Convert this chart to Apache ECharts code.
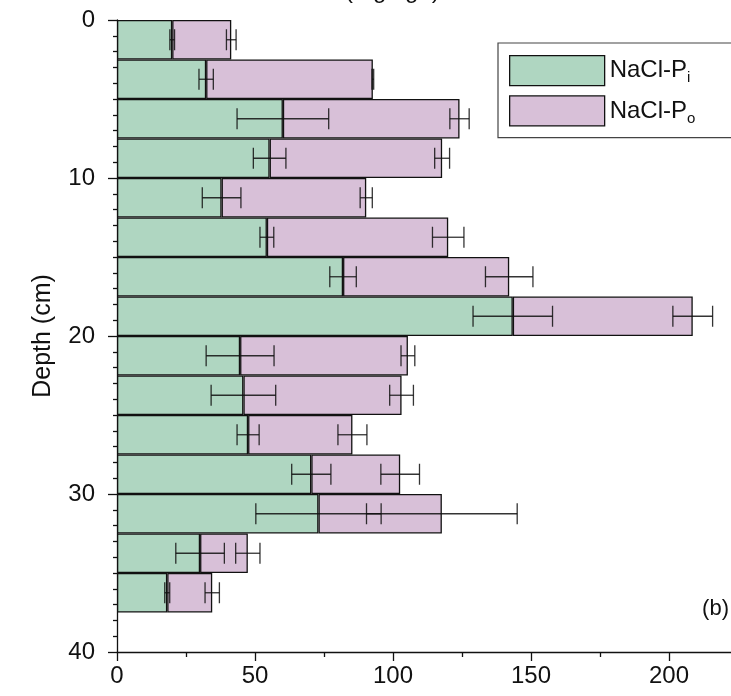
<!DOCTYPE html>
<html>
<head>
<meta charset="utf-8">
<title>NaCl-P by depth</title>
<script src="https://cdn.jsdelivr.net/npm/echarts@6/dist/echarts.min.js"></script>
<style>
  html, body { margin: 0; padding: 0; background: #ffffff; }
  #chart { width: 731px; height: 696px; }
</style>
</head>
<body>
<div id="chart"></div>
<script>
// Depth bins, 2.5 cm each (the last bin has no sample)
const depthBins = ['0-2.5', '2.5-5', '5-7.5', '7.5-10', '10-12.5', '12.5-15', '15-17.5', '17.5-20',
                   '20-22.5', '22.5-25', '25-27.5', '27.5-30', '30-32.5', '32.5-35', '35-37.5', '37.5-40'];
// NaCl-extractable inorganic P (mg/kg) and its error
const naclPi    = [20.0, 32.3, 60.1, 55.3, 37.9, 54.3, 81.9, 143.4, 44.6, 45.8, 47.5, 70.4, 73.0, 30.1, 18.2];
const naclPiErr = [0.85, 2.6, 16.6, 5.9, 7.0, 2.5, 4.8, 14.4, 12.3, 11.7, 4.0, 7.1, 22.7, 8.8, 0.9];
// NaCl-extractable organic P (mg/kg) and its error
const naclPo    = [21.4, 60.4, 64.0, 62.5, 52.4, 65.7, 60.2, 65.2, 60.8, 57.3, 37.8, 32.2, 44.7, 17.3, 16.3];
const naclPoErr = [1.75, 0.3, 3.5, 2.7, 2.2, 5.7, 8.6, 7.2, 2.5, 4.3, 5.25, 7.0, 27.3, 4.4, 2.6];

const FONT = "'Liberation Sans', Arial, Helvetica, sans-serif";
const INK = '#111111';

// error bars sit at the end of each segment: Pi at its own value, Po at the stacked total
const piErrData = naclPi.map((v, i) => [v, i, naclPiErr[i]]);
const poErrData = naclPo.map((v, i) => [naclPi[i] + v, i, naclPoErr[i]]);

function errorBarItem(params, api) {
  const mid = api.value(0);
  const row = api.value(1);
  const e = api.value(2);
  const c = api.coord([mid, row]);
  const a = api.coord([mid - e, row]);
  const b = api.coord([mid + e, row]);
  const h = 10.5;
  const style = { stroke: 'rgba(17,17,17,0.85)', lineWidth: 1.3 };
  return {
    type: 'group',
    children: [
      { type: 'line', shape: { x1: a[0], y1: c[1], x2: b[0], y2: c[1] }, style: style },
      { type: 'line', shape: { x1: a[0], y1: c[1] - h, x2: a[0], y2: c[1] + h }, style: style },
      { type: 'line', shape: { x1: b[0], y1: c[1] - h, x2: b[0], y2: c[1] + h }, style: style }
    ]
  };
}

const chart = echarts.init(document.getElementById('chart'), null, { renderer: 'canvas' });

chart.setOption({
  animation: false,
  backgroundColor: '#ffffff',
  // the value axis runs on past the right edge of the page
  grid: { left: 117, width: 690, top: 20, bottom: 44, containLabel: false, outerBoundsMode: 'none' },
  xAxis: {
    type: 'value',
    min: 0,
    max: 250,
    interval: 50,
    axisLine: { show: true, onZero: false, lineStyle: { color: INK, width: 1.3 } },
    axisTick: { show: true, inside: false, length: 9, lineStyle: { color: INK, width: 1.3 } },
    minorTick: { show: true, splitNumber: 2, length: 5, lineStyle: { color: INK, width: 1.3 } },
    splitLine: { show: false },
    axisLabel: { fontFamily: FONT, fontSize: 24, color: INK, margin: 12, showMaxLabel: false }
  },
  yAxis: [
    {
      type: 'value',
      min: 0,
      max: 40,
      interval: 10,
      inverse: true,
      name: 'Depth (cm)',
      nameLocation: 'middle',
      nameGap: 61,
      nameTextStyle: { fontFamily: FONT, fontSize: 25, color: INK },
      axisLine: { show: true, onZero: false, lineStyle: { color: INK, width: 1.3 } },
      axisTick: { show: true, inside: false, length: 9, lineStyle: { color: INK, width: 1.3 } },
      minorTick: { show: true, splitNumber: 10, length: 4, lineStyle: { color: INK, width: 1.3 } },
      splitLine: { show: false },
      axisLabel: { fontFamily: FONT, fontSize: 24, color: INK, margin: 22 }
    },
    {
      type: 'category',
      data: depthBins,
      inverse: true,
      show: false,
      boundaryGap: true
    }
  ],
  legend: {
    orient: 'vertical',
    left: 498,
    top: 43,
    padding: [12, 60, 11, 11],
    itemWidth: 95,
    itemHeight: 30,
    itemGap: 9,
    icon: 'rect',
    borderColor: '#444444',
    borderWidth: 1.2,
    backgroundColor: '#ffffff',
    data: ['NaCl-Pi', 'NaCl-Po'],
    itemStyle: { borderColor: INK, borderWidth: 1.3 },
    formatter: function (name) {
      return name === 'NaCl-Pi' ? '{m|NaCl-P}{s|i}' : '{m|NaCl-P}{s|o}';
    },
    textStyle: {
      fontFamily: FONT,
      color: INK,
      rich: {
        m: { fontFamily: FONT, fontSize: 24, lineHeight: 30, color: INK },
        s: { fontFamily: FONT, fontSize: 15, lineHeight: 15, verticalAlign: 'bottom', color: INK }
      }
    }
  },
  graphic: [
    {
      type: 'text',
      x: 261,
      y: -21,
      silent: true,
      style: {
        text: '{t|NaCl-P (mg kg}{u|-1}{t|)}',
        rich: {
          t: { fontFamily: FONT, fontSize: 24, fill: INK },
          u: { fontFamily: FONT, fontSize: 15, fill: INK, verticalAlign: 'top' }
        },
        fill: INK
      }
    },
    {
      type: 'text',
      x: 729,
      y: 609,
      silent: true,
      style: {
        text: '(b)',
        fontFamily: FONT,
        fontSize: 22,
        fill: INK,
        textAlign: 'right',
        textVerticalAlign: 'middle'
      }
    }
  ],
  series: [
    {
      name: 'NaCl-Pi',
      type: 'bar',
      stack: 'nacl',
      xAxisIndex: 0,
      yAxisIndex: 1,
      barCategoryGap: '0%',
      data: naclPi,
      itemStyle: { color: '#afd6c1', borderColor: INK, borderWidth: 1.3 },
      z: 2
    },
    {
      name: 'NaCl-Po',
      type: 'bar',
      stack: 'nacl',
      xAxisIndex: 0,
      yAxisIndex: 1,
      barCategoryGap: '0%',
      data: naclPo,
      itemStyle: { color: '#d8c0d8', borderColor: INK, borderWidth: 1.3 },
      z: 2
    },
    {
      name: 'Pi error',
      type: 'custom',
      xAxisIndex: 0,
      yAxisIndex: 1,
      renderItem: errorBarItem,
      encode: { x: 0, y: 1 },
      data: piErrData,
      z: 5
    },
    {
      name: 'Po error',
      type: 'custom',
      xAxisIndex: 0,
      yAxisIndex: 1,
      renderItem: errorBarItem,
      encode: { x: 0, y: 1 },
      data: poErrData,
      z: 5
    }
  ]
});
</script>
</body>
</html>
